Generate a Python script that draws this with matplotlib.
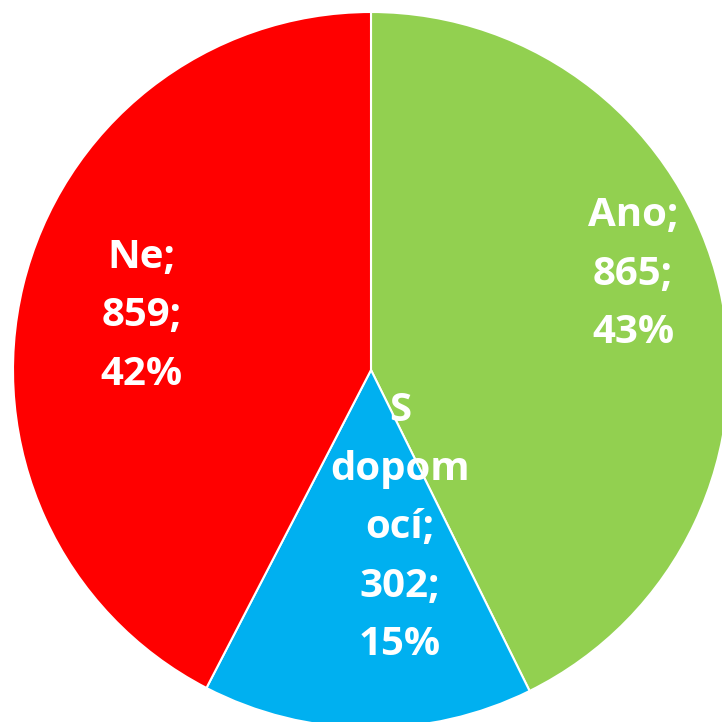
import matplotlib

matplotlib.use("Agg")
import matplotlib.pyplot as plt

categories = ["Ano", "S dopomocí", "Ne"]
counts = [865, 302, 859]
percents = [43, 15, 42]
label_texts = ["Ano;\n865;\n43%", "S\ndopom\nocí;\n302;\n15%", "Ne;\n859;\n42%"]
colors = ["#92D050", "#00B0F0", "#FF0000"]

# label centres in data units (pie radius = 1)
label_pos = [(0.732, 0.268), (0.081, -0.441), (-0.640, 0.151)]

fig = plt.figure(figsize=(7.22, 7.22), dpi=100)
ax = fig.add_axes([0, 0, 1, 1])
ax.pie(counts, colors=colors, startangle=90, counterclock=False,
       radius=1.0, wedgeprops=dict(edgecolor="white", linewidth=1.5))
ax.set_xlim(-371 / 358, (722 - 371) / 358)
ax.set_ylim(-(722 - 370) / 358, 370 / 358)
ax.set_aspect("equal")
ax.axis("off")

for txt, (x, y) in zip(label_texts, label_pos):
    ax.text(x, y, txt, ha="center", va="center", ma="center", color="white",
            fontsize=29, fontweight="bold", family=["Open Sans", "DejaVu Sans"],
            linespacing=1.65)

fig.savefig("out.png", dpi=100)
